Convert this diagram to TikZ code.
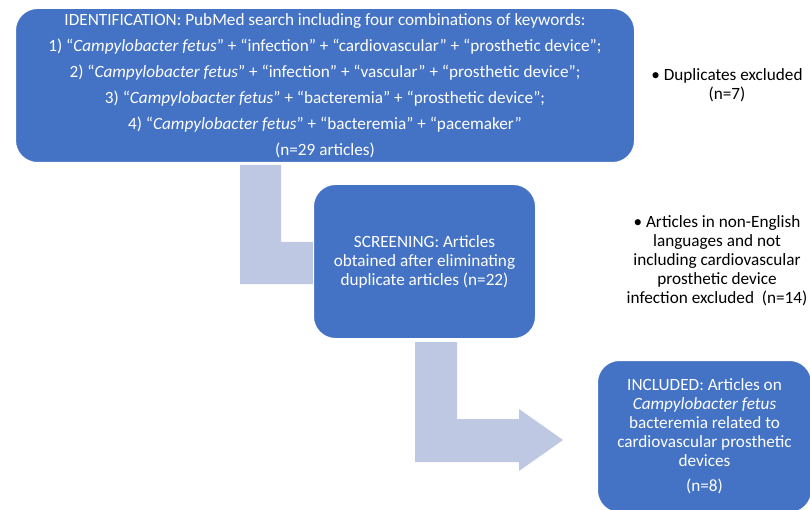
\documentclass[tikz,border=0pt]{standalone}
\usepackage{fontspec}
\setmainfont{Carlito}
\usetikzlibrary{positioning}
\definecolor{stageblue}{RGB}{68,114,196}
\definecolor{flowblue}{RGB}{191,200,227}

\begin{document}
\begin{tikzpicture}[x=1pt, y=-1pt,
			stagenode/.style={rectangle, rounded corners=22pt, fill=stageblue, draw=white, line width=1pt, text=white, align=center, anchor=north west, inner sep=0pt},
			notenode/.style={align=center, font=\fontsize{17.2}{19}\selectfont},
			flowarrow/.style={fill=flowblue, draw=none},
			]
			\useasboundingbox (0,0) rectangle (810,510);

			%Arrows
			\fill[flowarrow] (240,165) -- (281,165) -- (281,242) -- (330,242) -- (330,284) -- (240,284) -- cycle;
			\fill[flowarrow] (415,342) -- (457,342) -- (457,419) -- (519,419) -- (519,409) -- (563,440)
				-- (519,471) -- (519,462) -- (415,462) -- cycle;

			%Nodes
			\node[stagenode, minimum width=619pt, minimum height=154pt,
				font=\fontsize{17.2}{26}\selectfont] (ident) at (15,8)
				{IDENTIFICATION: PubMed search including four combinations of keywords:\\
				1) ``\textit{Campylobacter fetus}'' + ``infection'' + ``cardiovascular'' + ``prosthetic device'';\\
				2) ``\textit{Campylobacter fetus}'' + ``infection'' + ``vascular'' + ``prosthetic device'';\\
				3) ``\textit{Campylobacter fetus}'' + ``bacteremia'' + ``prosthetic device'';\\
				4) ``\textit{Campylobacter fetus}'' + ``bacteremia'' + ``pacemaker''\\
				(n=29 articles)};
			\node[stagenode, minimum width=222pt, minimum height=154pt,
				font=\fontsize{17.2}{19}\selectfont] (screen) at (313,184)
				{SCREENING: Articles\\ obtained after eliminating\\ duplicate articles (n=22)};
			\node[stagenode, minimum width=214pt, minimum height=152pt,
				font=\fontsize{17.2}{19}\selectfont] (incl) at (597,360)
				{INCLUDED: Articles on\\ \textit{Campylobacter fetus}\\ bacteremia related to\\
				cardiovascular prosthetic\\ devices\\[6pt] (n=8)};

			\node[notenode] (dupl) at (727,85) {\textbullet\ Duplicates excluded\\ (n=7)};
			\node[notenode] (lang) at (717,261) {\textbullet\ Articles in non-English\\ languages and not\\
				including cardiovascular\\ prosthetic device\\ infection excluded\ \ (n=14)};
		\end{tikzpicture}
\end{document}
